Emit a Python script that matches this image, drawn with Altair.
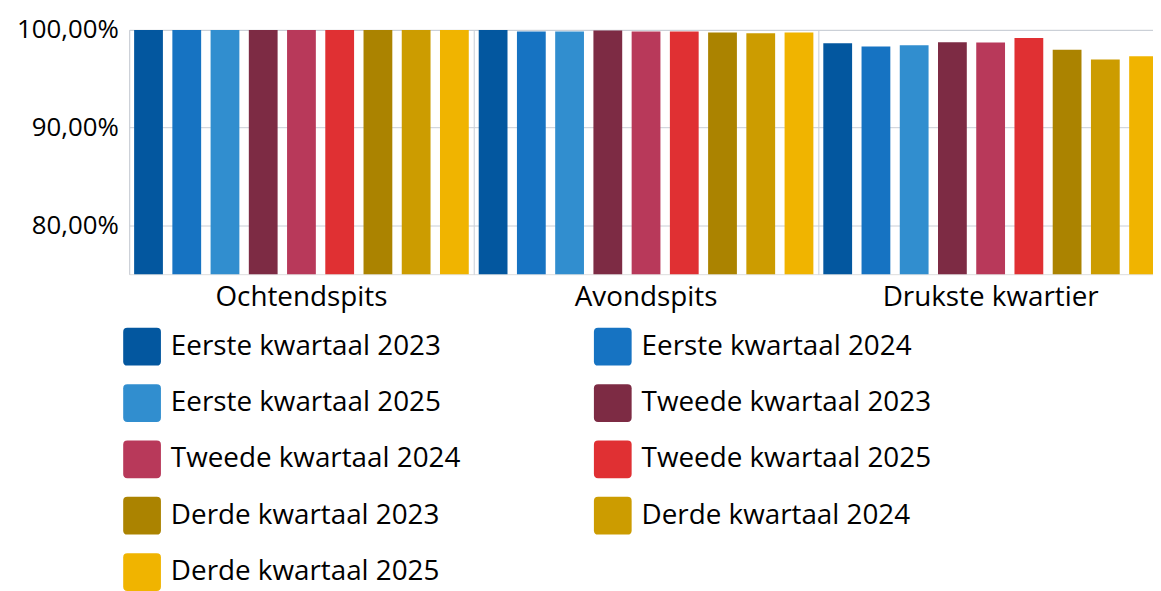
import altair as alt
import pandas as pd

groups = ["Ochtendspits", "Avondspits", "Drukste kwartier"]
series = [
    "Eerste kwartaal 2023", "Eerste kwartaal 2024", "Eerste kwartaal 2025",
    "Tweede kwartaal 2023", "Tweede kwartaal 2024", "Tweede kwartaal 2025",
    "Derde kwartaal 2023", "Derde kwartaal 2024", "Derde kwartaal 2025",
]
ochtendspits = [100.0, 100.0, 100.0, 100.0, 100.0, 100.0, 100.0, 100.0, 100.0]
avondspits = [100.0, 99.83, 99.83, 99.93, 99.83, 99.83, 99.73, 99.66, 99.73]
drukste_kwartier = [98.63, 98.30, 98.43, 98.73, 98.70, 99.16, 97.96, 96.96, 97.30]
colors = ["#03579f", "#1673c2", "#318ecf", "#7d2b44", "#b8395a", "#e03033",
          "#ab8300", "#cc9c00", "#f0b400"]
y_ticks = [80, 90, 100]

rows = []
for g, vals in zip(groups, [ochtendspits, avondspits, drukste_kwartier]):
    for s, v in zip(series, vals):
        rows.append({"groep": g, "reeks": s, "waarde": v})
df = pd.DataFrame(rows)

FONT = "Open Sans"
GRID = "#c9ced6"
rounded = "M-0.78,-1H0.78Q1,-1 1,-0.78V0.78Q1,1 0.78,1H-0.78Q-1,1 -1,0.78V-0.78Q-1,-1 -0.78,-1Z"

chart = alt.Chart(df).mark_bar().encode(
    x=alt.X("groep:N", sort=groups, title=None,
            scale=alt.Scale(paddingInner=0, paddingOuter=0),
            axis=alt.Axis(labelAngle=0, domain=False, ticks=False, grid=True,
                          bandPosition=0, gridColor=GRID, gridWidth=1,
                          labelFontSize=28, labelColor="#000000", labelPadding=10,
                          labelFont=FONT, labelLimit=400)),
    xOffset=alt.XOffset("reeks:N", sort=series,
                        scale=alt.Scale(paddingInner=0.247, paddingOuter=0.13)),
    y=alt.Y("waarde:Q", title=None,
            scale=alt.Scale(domain=[75, 100], nice=False, zero=False),
            axis=alt.Axis(values=y_ticks, domain=False, ticks=False,
                          gridColor=GRID, gridWidth=1,
                          labelExpr="replace(format(datum.value, '.2f'), '.', ',') + '%'",
                          labelFontSize=26, labelColor="#000000", labelPadding=11,
                          labelFont=FONT)),
    y2=alt.datum(75),
    color=alt.Color("reeks:N", sort=series, title=None,
                    scale=alt.Scale(domain=series, range=colors),
                    legend=alt.Legend(orient="none", legendX=-6, legendY=300,
                                      direction="horizontal", columns=2,
                                      symbolType=rounded, symbolSize=1444,
                                      symbolStrokeWidth=0, labelFontSize=28,
                                      labelFont=FONT, labelColor="#000000",
                                      labelOffset=10, rowPadding=18.75, columnPadding=134,
                                      padding=0, labelLimit=400)),
).properties(
    width=1041, height=246,
    autosize=alt.AutoSizeParams(type="none"),
    padding={"left": 122, "top": 20, "right": -10, "bottom": 317},
).configure_view(stroke=None).configure(font=FONT)

chart.save("out.html", embed_options={"renderer": "svg", "actions": False})
